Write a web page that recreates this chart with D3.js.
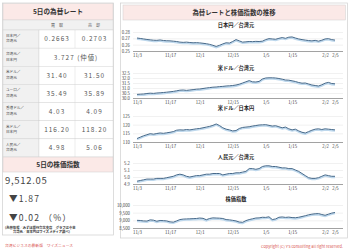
<!DOCTYPE html>
<html>
<head>
<meta charset="utf-8">
<script src="https://cdn.jsdelivr.net/npm/d3@7"></script>
<style>
  body { margin: 0; background: #fff; }
  svg { display: block; font-family: "Noto Sans CJK JP", "Noto Sans", sans-serif; }
</style>
</head>
<body>
<div id="chart"></div>
<script>
// ---- data ----
var rateNames = [["日本円／", "台湾元"], ["台湾元／", "日本円"], ["米ドル／", "台湾元"], ["ユーロ／", "台湾元"],
                 ["香港ドル／", "台湾元"], ["米ドル／", "日本円"], ["人民元／", "台湾元"]];
var buyRates  = ["0.2663", "3.727 (仲値)", "31.40", "35.49", "4.03", "116.20", "4.98"];
var sellRates = ["0.2703", null, "31.50", "35.89", "4.09", "118.20", "5.06"];

var indexValue = "9,512.05";
var indexChange = "▼1.87";
var indexPct = "▼0.02 （%）";

var xTickLabels = ["11/3", "11/17", "12/1", "12/15", "1/5", "1/15", "2/2", "2/5"];
var xTickIndex  = [0, 10, 19, 29, 39, 47, 57, 60];

var jpyTwd = [0.2705, 0.2698, 0.2690, 0.2682, 0.2676, 0.2670, 0.2668, 0.2674, 0.2666, 0.2662, 0.2660,
              0.2655, 0.2650, 0.2640, 0.2636, 0.2640, 0.2634, 0.2630, 0.2632, 0.2628, 0.2622,
              0.2615, 0.2605, 0.2590, 0.2572, 0.2590, 0.2612, 0.2630, 0.2625, 0.2650, 0.2680,
              0.2660, 0.2640, 0.2645, 0.2650, 0.2648, 0.2652, 0.2650, 0.2655, 0.2680, 0.2695,
              0.2690, 0.2685, 0.2700, 0.2712, 0.2700, 0.2718, 0.2722, 0.2705, 0.2690, 0.2680,
              0.2672, 0.2665, 0.2660, 0.2668, 0.2655, 0.2670, 0.2690, 0.2695, 0.2680, 0.2672];
var usdTwd = [30.36, 30.38, 30.40, 30.45, 30.48, 30.46, 30.50, 30.52, 30.55, 30.58, 30.62,
              30.66, 30.72, 30.78, 30.80, 30.76, 30.80, 30.84, 30.88, 30.90, 30.95,
              31.00, 31.04, 31.08, 31.10, 31.14, 31.16, 31.20, 31.22, 31.25, 31.30,
              31.38, 31.50, 31.62, 31.74, 31.62, 31.60, 31.66, 31.90, 32.00, 32.02,
              32.02, 32.00, 31.95, 31.88, 31.80, 31.78, 31.72, 31.65, 31.55, 31.48,
              31.50, 31.40, 31.30, 31.25, 31.20, 31.32, 31.48, 31.56, 31.45, 31.42];
var usdJpy = [112.0, 112.8, 113.6, 114.2, 114.8, 114.5, 114.9, 115.2, 115.0, 115.3, 115.6,
              116.0, 116.8, 117.0, 116.9, 117.2, 117.0, 117.3, 117.6, 117.8, 118.2,
              118.6, 119.0, 119.6, 120.4, 119.5, 118.2, 117.4, 117.0, 116.4, 116.6,
              117.8, 118.4, 118.6, 118.8, 119.2, 119.5, 119.8, 119.9, 120.0, 119.6,
              119.2, 119.4, 118.8, 118.2, 118.6, 117.6, 117.0, 117.4, 116.4, 115.6,
              115.2, 116.0, 116.8, 117.4, 117.6, 117.2, 117.6, 117.4, 117.2, 117.0];
var cnyTwd = [4.94, 4.95, 4.96, 4.97, 4.97, 4.97, 4.98, 4.98, 4.98, 4.99, 5.00,
              5.01, 5.03, 5.04, 5.03, 5.01, 5.00, 5.01, 5.02, 5.02, 5.03,
              5.04, 5.04, 5.05, 5.05, 5.05, 5.03, 5.04, 5.05, 5.05, 5.06,
              5.06, 5.07, 5.08, 5.12, 5.12, 5.11, 5.12, 5.15, 5.16, 5.16,
              5.15, 5.15, 5.14, 5.13, 5.13, 5.12, 5.12, 5.10, 5.08, 5.05,
              5.02, 4.99, 4.98, 4.98, 4.99, 5.01, 5.03, 5.02, 5.01, 5.01];
var taiex = [9000, 8990, 8960, 8950, 9030, 9010, 8940, 8990, 8980, 8960, 8900,
             8880, 8960, 9050, 9080, 9090, 9100, 9110, 9120, 9150, 9130,
             9040, 9120, 9160, 9150, 9140, 9120, 9050, 9030, 9000, 8960,
             8890, 8870, 8980, 9050, 9100, 9150, 9160, 9200, 9190, 9230,
             9050, 9090, 9200, 9220, 9190, 9210, 9180, 9170, 9200, 9250,
             9300, 9360, 9400, 9430, 9440, 9380, 9330, 9400, 9470, 9512];

var chartTitles = ["日本円／台湾元", "米ドル／台湾元", "米ドル／日本円", "人民元／台湾元", "株価指数"];
var chartTicks = [[0.25, 0.26, 0.27, 0.28], [30.0, 30.5, 31.0, 31.5, 32.0, 32.5],
                  [110, 115, 120, 125], [4.9, 5.0, 5.1, 5.2], [8500, 9000, 9500, 10000]];

// ---- layout ----
var W = 350, H = 251;
var pink = "#fbe9e7", frame = "#cfcfcf", labelBg = "#f1f1f1";

var svg = d3.select("#chart").append("svg")
  .attr("width", W).attr("height", H);

// ===== left panel =====
var left = svg.append("g");
left.append("rect").attr("x", 2.5).attr("y", 3).attr("width", 111).attr("height", 232)
  .attr("fill", "#fff").attr("stroke", frame).attr("stroke-width", 0.7);

left.append("rect").attr("x", 3).attr("y", 3.5).attr("width", 110).attr("height", 16.5)
  .attr("fill", pink).attr("stroke", frame).attr("stroke-width", 0.5);
left.append("text").attr("x", 58).attr("y", 14.2).attr("text-anchor", "middle")
  .attr("font-size", 6.6).attr("font-weight", "bold").attr("fill", "#333")
  .text("5日の為替レート");

// table
var colX = [3, 39, 75, 113];
var rowY = d3.scaleBand().domain(d3.range(rateNames.length)).range([30, 157]);

left.append("rect").attr("x", 3).attr("y", 20).attr("width", 110).attr("height", 10)
  .attr("fill", labelBg).attr("stroke", frame).attr("stroke-width", 0.4);
left.selectAll(".colhead").data(["買　取", "売　却"]).enter().append("text")
  .attr("x", function(d, i) { return (colX[i + 1] + colX[i + 2]) / 2; })
  .attr("y", 26.6).attr("text-anchor", "middle")
  .attr("font-size", 4).attr("fill", "#555").text(function(d) { return d; });

var rows = left.selectAll(".row").data(rateNames).enter().append("g")
  .attr("transform", function(d, i) { return "translate(0," + rowY(i) + ")"; });
rows.append("rect").attr("x", 3).attr("width", 36).attr("height", rowY.bandwidth())
  .attr("fill", labelBg).attr("stroke", frame).attr("stroke-width", 0.4);
rows.append("rect").attr("x", 39).attr("width", 74).attr("height", rowY.bandwidth())
  .attr("fill", "#fff").attr("stroke", frame).attr("stroke-width", 0.4);
rows.filter(function(d, i) { return sellRates[i] != null; })
  .append("line").attr("x1", 75).attr("x2", 75).attr("y1", 0).attr("y2", rowY.bandwidth())
  .attr("stroke", frame).attr("stroke-width", 0.4);
rows.append("text").attr("x", 6).attr("font-size", 3.6).attr("fill", "#444")
  .selectAll("tspan").data(function(d) { return d; }).enter().append("tspan")
  .attr("x", 6).attr("y", function(d, i) { return 6.8 + i * 5.6; })
  .text(function(d) { return d; });
rows.append("text")
  .attr("x", function(d, i) { return sellRates[i] == null ? 76 : 57; })
  .attr("y", rowY.bandwidth() / 2 + 2.3).attr("text-anchor", "middle")
  .attr("font-size", 6.4).attr("letter-spacing", 1).attr("fill", "#555")
  .text(function(d, i) { return buyRates[i]; });
rows.append("text")
  .attr("x", 94.5).attr("y", rowY.bandwidth() / 2 + 2.3).attr("text-anchor", "middle")
  .attr("font-size", 6.4).attr("letter-spacing", 1).attr("fill", "#555")
  .text(function(d, i) { return sellRates[i] || ""; });

// stock index box
left.append("rect").attr("x", 3).attr("y", 157).attr("width", 110).attr("height", 15)
  .attr("fill", pink).attr("stroke", frame).attr("stroke-width", 0.5);
left.append("text").attr("x", 58).attr("y", 167.2).attr("text-anchor", "middle")
  .attr("font-size", 6.6).attr("font-weight", "bold").attr("fill", "#333")
  .text("5日の株価指数");

left.append("text").attr("x", 5).attr("y", 184).attr("font-size", 9.5)
  .attr("letter-spacing", 0.7).attr("fill", "#444").text(indexValue);
left.append("text").attr("x", 9).attr("y", 202).attr("font-size", 8.6)
  .attr("letter-spacing", 1.2).attr("fill", "#444").text(indexChange);
left.append("text").attr("x", 9).attr("y", 220.5).attr("font-size", 8.6)
  .attr("letter-spacing", 1.2).attr("fill", "#444").text(indexPct);
left.append("text").attr("x", 5).attr("y", 228.5).attr("font-size", 3.3)
  .attr("font-weight", "bold").attr("fill", "#333")
  .text("(為替情報／みずほ銀行台北支店　グラフは中華");
left.append("text").attr("x", 13).attr("y", 232.6).attr("font-size", 3.3)
  .attr("font-weight", "bold").attr("fill", "#333")
  .text("台湾元／日本円はワイズメディア調べ)");

left.append("text").attr("x", 5).attr("y", 246.5).attr("font-size", 3.8)
  .attr("fill", "#d9534f").text("台湾ビジネスの最新版　ワイズニュース");

// ===== right panel =====
var right = svg.append("g");
right.append("rect").attr("x", 120.5).attr("y", 3).attr("width", 227).attr("height", 235)
  .attr("fill", "#fff").attr("stroke", frame).attr("stroke-width", 0.7);
right.append("rect").attr("x", 123).attr("y", 5).attr("width", 222.5).attr("height", 15)
  .attr("fill", pink).attr("stroke", frame).attr("stroke-width", 0.5);
right.append("text").attr("x", 234).attr("y", 15).attr("text-anchor", "middle")
  .attr("font-size", 6.4).attr("font-weight", "bold").attr("fill", "#333")
  .text("為替レートと株価指数の推移");

right.append("text").attr("x", 343).attr("y", 248).attr("text-anchor", "end")
  .attr("font-size", 3.9).attr("fill", "#d9534f")
  .text("Copyright  (C)  Y's consulting all right reserved.");

var x = d3.scaleLinear().domain([0, 60]).range([137, 335]);
var gridX0 = 133, gridX1 = 343;

var charts = [
  { values: jpyTwd, titleY: 26.5, top: 32, bottom: 51, fmt: d3.format(".2f") },
  { values: usdTwd, titleY: 69.5, top: 73, bottom: 98, fmt: d3.format(".1f") },
  { values: usdJpy, titleY: 110, top: 116, bottom: 142, fmt: d3.format("d") },
  { values: cnyTwd, titleY: 158.5, top: 163, bottom: 184, fmt: d3.format(".1f") },
  { values: taiex, titleY: 200.5, top: 205, bottom: 228, fmt: d3.format(",") }
];

charts.forEach(function(c, k) {
  var ticks = chartTicks[k];
  var y = d3.scaleLinear().domain([ticks[0], ticks[ticks.length - 1]]).range([c.bottom, c.top]);
  var g = right.append("g");

  g.append("text").attr("x", 236).attr("y", c.titleY).attr("text-anchor", "middle")
    .attr("font-size", 5.2).attr("font-weight", "bold").attr("fill", "#222")
    .text(chartTitles[k]);

  var yAxis = g.append("g").attr("transform", "translate(" + gridX0 + ",0)")
    .call(d3.axisLeft(y).tickValues(ticks).tickFormat(c.fmt)
      .tickSize(-(gridX1 - gridX0)).tickPadding(3));
  yAxis.select(".domain").remove();
  yAxis.attr("font-size", 4.3).attr("font-family", null);
  yAxis.selectAll("line").attr("stroke", function(d, i) { return i === 0 ? "#8a8a8a" : "#e2e2e2"; })
    .attr("stroke-width", function(d, i) { return i === 0 ? 0.8 : 0.5; });
  yAxis.selectAll("text").attr("fill", "#444");

  var xAxis = g.append("g").attr("transform", "translate(0," + c.bottom + ")")
    .call(d3.axisBottom(x).tickValues(xTickIndex)
      .tickFormat(function(d, i) { return xTickLabels[i]; }).tickSize(0).tickPadding(2.6));
  xAxis.select(".domain").remove();
  xAxis.attr("font-size", 4.3).attr("font-family", null);
  xAxis.selectAll("text").attr("fill", "#444");

  var line = d3.line().x(function(d, i) { return x(i); }).y(function(d) { return y(d); });
  g.append("path").datum(c.values).attr("d", line)
    .attr("transform", "translate(0,1.1)")
    .attr("fill", "none").attr("stroke", "#bdd7ec").attr("stroke-width", 1.6);
  g.append("path").datum(c.values).attr("d", line)
    .attr("fill", "none").attr("stroke", "#46698a").attr("stroke-width", 1);
});
</script>
</body>
</html>
